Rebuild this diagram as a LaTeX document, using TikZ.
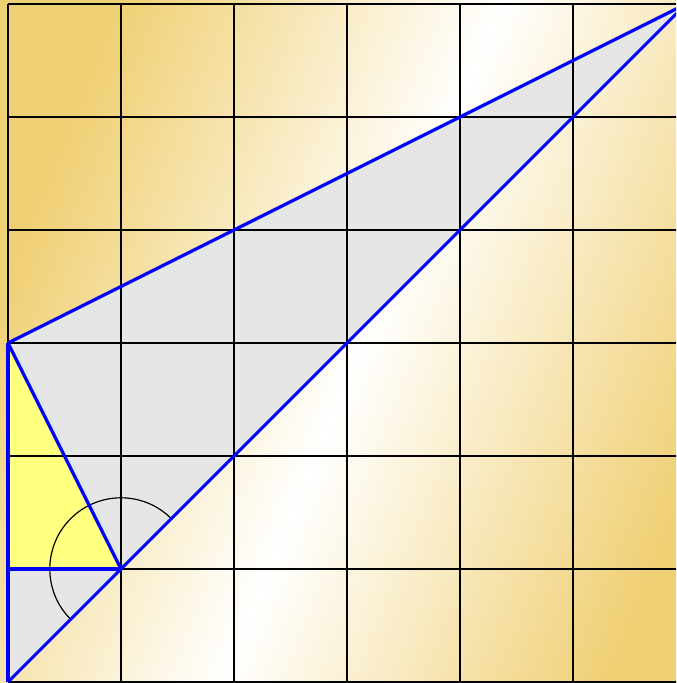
\documentclass[tikz,border=0pt]{standalone}
\definecolor{gold}{RGB}{240,208,116}
\definecolor{trigray}{RGB}{230,230,230}
\definecolor{triyellow}{RGB}{255,255,128}
\tikzset{
  gridline/.style={draw=black, line width=0.3pt},
  blueline/.style={draw=blue, line width=0.8pt, line join=round},
  anglearc/.style={draw=black, line width=0.3pt}
}
\begin{document}
\begin{tikzpicture}
\useasboundingbox (-0.0708,-0.00885) rectangle (5.9115,6.0354);
\clip (-0.0708,-0.00885) rectangle (5.9115,6.0354);
% background
\shade[left color=gold, right color=gold, middle color=white, shading angle=67.7]
  (-0.0708,-0.00885) rectangle (6.35,6.0354);
% points
\coordinate (O) at (0,0);
\coordinate (A) at (0,3);
\coordinate (B) at (6,6);
\coordinate (C) at (0,1);
\coordinate (D) at (1,1);
% fills
\fill[trigray] (O) -- (A) -- (B) -- cycle;
\fill[triyellow] (C) -- (A) -- (D) -- cycle;
% grid
\draw[gridline] (0,0) grid (6,6);
% arc
\draw[anglearc] (D) ++(45:0.63) arc[start angle=45, end angle=225, radius=0.63];
% blue lines
\draw[blueline] (O) -- (A);
\draw[blueline] (A) -- (B);
\draw[blueline] (O) -- (B);
\draw[blueline] (A) -- (D);
\draw[blueline] (C) -- (D);
\end{tikzpicture}
\end{document}
